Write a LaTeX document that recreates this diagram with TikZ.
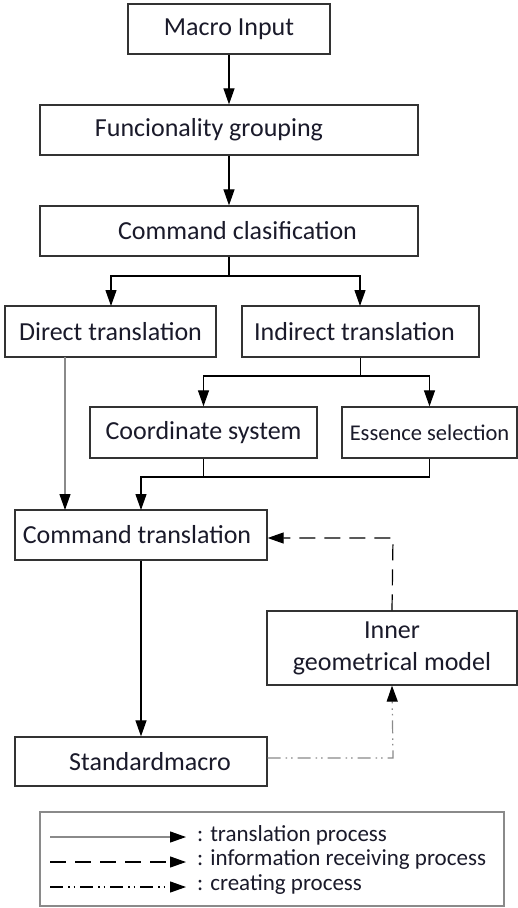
\documentclass[tikz,border=0pt]{standalone}
\usepackage{fontspec}
\setmainfont{Carlito}
\usetikzlibrary{arrows.meta}
\definecolor{boxline}{HTML}{333333}
\definecolor{grayline}{HTML}{8A8A8A}
\definecolor{txt}{HTML}{1A1A2A}
\begin{document}
\begin{tikzpicture}[x=1pt,y=-1pt,
  box/.style={draw=boxline,line width=1.3pt,rectangle,inner sep=0pt,text=txt,font=\fontsize{26}{28}\selectfont},
  tip/.style={-{Triangle[length=16pt,width=11pt,color=black]}},
  flow/.style={tip,line width=1.2pt,draw=black},
  grayflow/.style={tip,line width=1.2pt,draw=grayline},
  dashflow/.style={tip,line width=1.2pt,draw=black,dash pattern=on 16pt off 9pt},
  dotflow/.style={tip,line width=1.2pt,draw=grayline,dash pattern=on 13pt off 5pt on 1.5pt off 4pt on 1.5pt off 5pt},
  legtext/.style={anchor=west,text=txt,font=\fontsize{23}{25}\selectfont,inner sep=0pt}]
\useasboundingbox[fill=white] (0,0) rectangle (518,908);

\node[box,minimum width=202pt,minimum height=50pt] (macro) at (229,29) {Macro Input};
\node[box,minimum width=378pt,minimum height=50pt] (func) at (229,130) {Funcionality grouping\hspace*{40pt}};
\node[box,minimum width=378pt,minimum height=50pt] (cmd) at (229,231) {\hspace*{17pt}Command clasification};
\node[box,minimum width=211pt,minimum height=51pt] (direct) at (110.5,331.5) {Direct translation};
\node[box,minimum width=237pt,minimum height=51pt] (indirect) at (360.5,331.5) {Indirect translation\hspace*{12pt}};
\node[box,minimum width=227pt,minimum height=51pt] (coord) at (203.5,432.5) {Coordinate system};
\node[box,minimum width=175pt,minimum height=51pt,font=\fontsize{22.5}{24}\selectfont] (essence) at (429.5,432.5) {Essence selection};
\node[box,minimum width=252pt,minimum height=50pt] (ctrans) at (141,535) {Command translation\hspace*{8pt}};
\node[box,minimum width=252pt,minimum height=49pt] (std) at (141,761.5) {\hspace*{18pt}Standardmacro};
\node[box,minimum width=250pt,minimum height=74pt,align=center,font=\fontsize{26}{32}\selectfont] (inner) at (392,648) {Inner\\geometrical model};

% main flow
\draw[flow] (macro) -- (func);
\draw[flow] (func) -- (cmd);
\coordinate (b1) at (229,276);
\draw[line width=1.2pt] (cmd.south) -- (b1);
\draw[flow] (b1) -| (111,306);
\draw[flow] (b1) -| (360,306);
\coordinate (b2) at (360.5,376);
\draw[line width=1.2pt] (indirect.south) -- (b2);
\draw[flow] (b2) -| (coord.north);
\draw[flow] (b2) -| (essence.north);
\coordinate (b3) at (203.5,477);
\draw[line width=1.2pt] (coord.south) -- (b3);
\draw[line width=1.2pt] (essence.south) |- (b3);
\draw[flow] (b3) -| (141,510);
\draw[grayflow] (65,357) -- (65,510);
\draw[flow] (ctrans) -- (std);

% info receiving
\coordinate (d1) at (393,538);
\draw[dashflow] (inner.north) -- (d1) -- (ctrans.east |- d1);
% creating
\coordinate (c1) at (393,758);
\draw[dotflow] (std.east |- c1) -- (c1) -- (inner.south);

% legend
\node[draw=grayline,line width=1.3pt,minimum width=464pt,minimum height=94pt,inner sep=0pt] (legend) at (272,859) {};
\coordinate (l1a) at (50,837); \coordinate (l1b) at (186,837);
\coordinate (l2a) at (50,862); \coordinate (l2b) at (186,862);
\coordinate (l3a) at (50,887); \coordinate (l3b) at (186,887);
\draw[grayflow] (l1a) -- (l1b);
\draw[dashflow] (l2a) -- (l2b);
\draw[tip,line width=1.2pt,draw=black,dash pattern=on 13pt off 5pt on 1.5pt off 4pt on 1.5pt off 5pt] (l3a) -- (l3b);
\node[legtext] (t1) at (197,835) {: translation process};
\node[legtext] (t2) at (197,860) {: information receiving process};
\node[legtext] (t3) at (197,885) {: creating process};
\end{tikzpicture}
\end{document}
